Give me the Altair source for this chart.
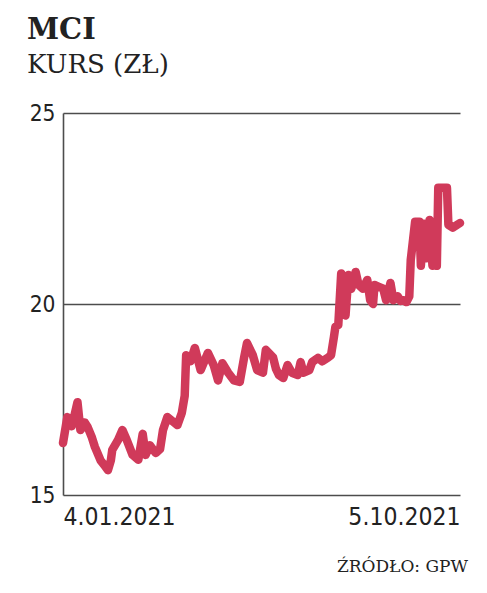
import altair as alt
import pandas as pd

# Data
dates = [
    "2021-01-04", "2021-01-07", "2021-01-10", "2021-01-12", "2021-01-14", "2021-01-16",
    "2021-01-19", "2021-01-21", "2021-01-24", "2021-01-26", "2021-01-30", "2021-02-02",
    "2021-02-04", "2021-02-06", "2021-02-07", "2021-02-11", "2021-02-14", "2021-02-17",
    "2021-02-21", "2021-02-25", "2021-02-28", "2021-03-02", "2021-03-05", "2021-03-09",
    "2021-03-12", "2021-03-14", "2021-03-17", "2021-03-20", "2021-03-24", "2021-03-27",
    "2021-03-29", "2021-03-30", "2021-04-02", "2021-04-05", "2021-04-09", "2021-04-14",
    "2021-04-18", "2021-04-21", "2021-04-24", "2021-04-28", "2021-05-02", "2021-05-06",
    "2021-05-09", "2021-05-11", "2021-05-15", "2021-05-18", "2021-05-22", "2021-05-24",
    "2021-05-29", "2021-05-31", "2021-06-02", "2021-06-05", "2021-06-08", "2021-06-11",
    "2021-06-15", "2021-06-17", "2021-06-19", "2021-06-23", "2021-06-25", "2021-06-29",
    "2021-07-02", "2021-07-06", "2021-07-08", "2021-07-10", "2021-07-11", "2021-07-13",
    "2021-07-15", "2021-07-16", "2021-07-18", "2021-07-20", "2021-07-22", "2021-07-25",
    "2021-07-27", "2021-07-30", "2021-08-02", "2021-08-04", "2021-08-06", "2021-08-07",
    "2021-08-10", "2021-08-13", "2021-08-15", "2021-08-18", "2021-08-20", "2021-08-23",
    "2021-08-25", "2021-08-27", "2021-08-29", "2021-08-31", "2021-09-01", "2021-09-04",
    "2021-09-07", "2021-09-08", "2021-09-10", "2021-09-12", "2021-09-14", "2021-09-16",
    "2021-09-17", "2021-09-19", "2021-09-20", "2021-09-24", "2021-09-26", "2021-09-27",
    "2021-09-30", "2021-10-05",
]
prices = [
    16.36, 17.04, 16.80, 17.10, 17.43, 16.70,
    16.90, 16.78, 16.50, 16.26, 15.90, 15.76,
    15.65, 15.90, 16.18, 16.44, 16.70, 16.44,
    16.05, 15.92, 16.60, 16.05, 16.30, 16.10,
    16.20, 16.70, 17.04, 16.95, 16.83, 17.15,
    17.60, 18.66, 18.50, 18.85, 18.27, 18.72,
    18.40, 18.00, 18.45, 18.20, 18.00, 17.96,
    18.60, 18.98, 18.66, 18.27, 18.20, 18.80,
    18.60, 18.30, 18.14, 18.06, 18.40, 18.20,
    18.14, 18.48, 18.20, 18.27, 18.48, 18.59,
    18.50, 18.60, 18.66, 19.14, 19.40, 19.45,
    20.80, 19.84, 19.70, 20.76, 20.40, 20.84,
    20.50, 20.40, 20.63, 20.10, 20.00, 20.50,
    20.45, 20.40, 20.10, 20.55, 20.10, 20.20,
    20.08, 20.10, 20.05, 20.20, 21.15, 22.15,
    22.15, 21.00, 22.10, 21.20, 22.20, 21.00,
    21.60, 21.00, 23.04, 23.04, 23.04, 22.07,
    22.00, 22.12,
]
y_ticks = [15, 20, 25]
x_first = "2021-01-04"
x_last = "2021-10-05"
title_text = "MCI"
subtitle_text = "KURS (ZŁ)"
source_text = "ŹRÓDŁO: GPW"

df = pd.DataFrame({"date": dates, "price": prices})

LINE = "#d03a5a"
INK = "#222222"
GRID = "#4d4d4d"
SERIF = "DejaVu Serif"
NARROW = "DejaVu Sans Condensed, Roboto, sans-serif"

x_enc = alt.X(
    "date:T",
    scale=alt.Scale(type="utc", domain=[x_first, x_last], nice=False),
    axis=alt.Axis(
        title=None,
        values=[alt.DateTime(year=2021, month=1, date=4, utc=True),
                alt.DateTime(year=2021, month=10, date=5, utc=True)],
        labelExpr="utcFormat(datum.value, '%-d.%m.%Y')",
        labelFlush=True,
        labelFont=NARROW,
        labelFontSize=24.5,
        labelColor=INK,
        labelPadding=10,
        ticks=False,
        grid=False,
        domain=False,
    ),
)
y_enc = alt.Y(
    "price:Q",
    scale=alt.Scale(domain=[15, 25], nice=False, zero=False),
    axis=alt.Axis(
        title=None,
        values=y_ticks,
        labelFont=NARROW,
        labelFontSize=22.5,
        labelColor=INK,
        labelPadding=8,
        ticks=False,
        grid=True,
        gridColor=GRID,
        gridWidth=1.6,
        gridOpacity=1,
        domain=True,
        domainColor=GRID,
        domainWidth=1.6,
    ),
)

line = alt.Chart(df).mark_line(
    color=LINE, strokeWidth=8.5, strokeJoin="round", strokeCap="round"
).encode(x=x_enc, y=y_enc)

title = alt.Chart(pd.DataFrame({"t": [title_text]})).mark_text(
    font=SERIF, fontWeight="bold", fontSize=29, color=INK, align="left", baseline="alphabetic"
).encode(x=alt.value(-36), y=alt.value(-74), text="t:N")

subtitle = alt.Chart(pd.DataFrame({"t": [subtitle_text]})).mark_text(
    font=SERIF, fontSize=26, color=INK, align="left", baseline="alphabetic"
).encode(x=alt.value(-36), y=alt.value(-40), text="t:N")

source = alt.Chart(pd.DataFrame({"t": [source_text]})).mark_text(
    font=SERIF, fontSize=17, color=INK, align="right", baseline="alphabetic"
).encode(x=alt.value(405), y=alt.value(459), text="t:N")

chart = alt.layer(line, title, subtitle, source).properties(
    width=397,
    height=382,
    autosize=alt.AutoSizeParams(type="none"),
    padding={"left": 55, "top": 105, "right": 19, "bottom": 90},
).configure_view(stroke=None)

chart.save("out.html", embed_options={"renderer": "svg", "actions": False})
